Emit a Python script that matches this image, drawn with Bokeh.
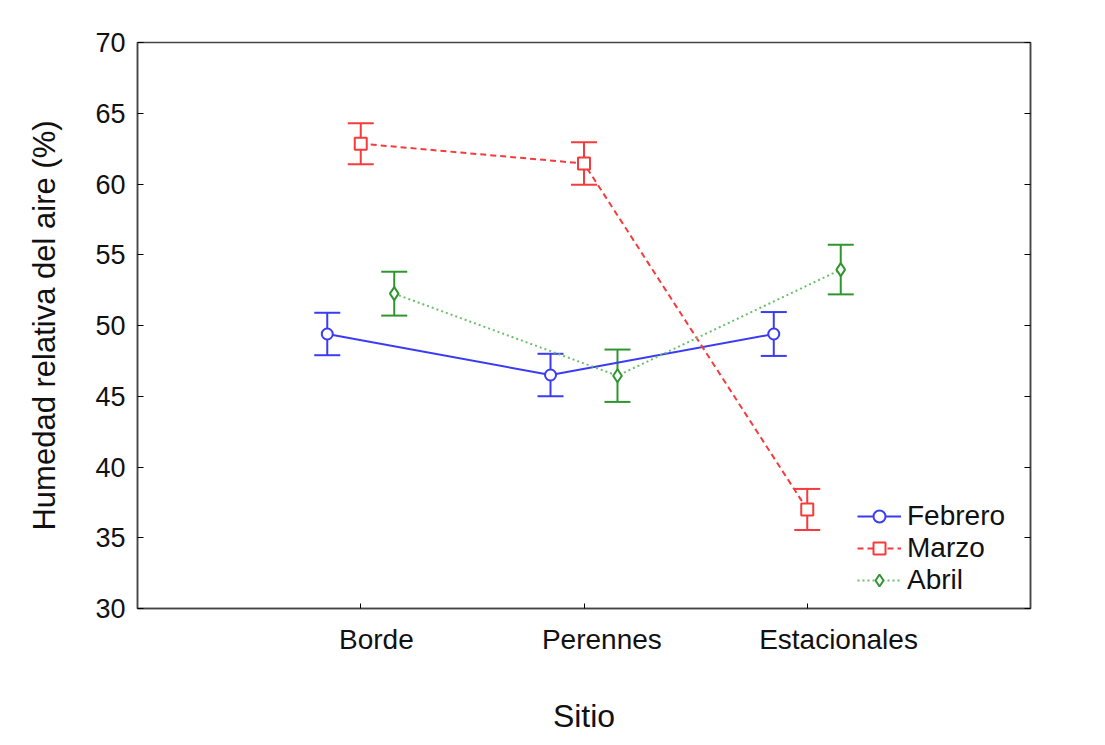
from bokeh.plotting import figure
from bokeh.models import (Range1d, LinearAxis, FixedTicker, Whisker, TeeHead,
                          ColumnDataSource, Legend, LegendItem)
from bokeh.embed import file_html
from bokeh.resources import INLINE

# ---- data ----
sitios = ["Borde", "Perennes", "Estacionales"]
sitio_pos = [1, 2, 3]
febrero_mean = [49.4, 46.5, 49.4]
febrero_err = [1.5, 1.5, 1.55]
marzo_mean = [62.85, 61.45, 37.0]
marzo_err = [1.45, 1.5, 1.45]
abril_mean = [52.25, 46.45, 53.95]
abril_err = [1.55, 1.85, 1.75]
y_ticks = [30, 35, 40, 45, 50, 55, 60, 65, 70]

FONT = "Liberation Sans"
TXT = "#111111"

p = figure(width=1105, height=745, x_range=Range1d(0, 4), y_range=Range1d(30, 70),
           output_backend="svg", toolbar_location=None,
           min_border_left=137, min_border_right=75, min_border_top=42,
           min_border_bottom=137)
p.grid.visible = False
p.outline_line_color = "#444444"
p.outline_line_width = 1.5
p.background_fill_color = "white"
p.border_fill_color = "white"

# y axis
ya = p.yaxis[0]
ya.ticker = FixedTicker(ticks=y_ticks)
ya.major_tick_in = 6
ya.major_tick_out = 0
ya.minor_tick_line_color = None
ya.axis_line_color = "#444444"
ya.axis_line_width = 1.5
ya.major_label_text_font = FONT
ya.major_label_text_font_size = "27px"
ya.major_label_text_color = TXT
ya.major_label_standoff = 12
ya.axis_label = "Humedad relativa del aire (%)"
ya.axis_label_text_font = FONT
ya.axis_label_text_font_size = "31px"
ya.axis_label_text_font_style = "normal"
ya.axis_label_text_color = TXT
ya.axis_label_standoff = 30

# right axis (ticks only)
ra = LinearAxis(ticker=FixedTicker(ticks=y_ticks), major_tick_in=6, major_tick_out=0,
                minor_tick_line_color=None, major_label_text_font_size="0px",
                axis_line_color="#444444", axis_line_width=1.5)
p.add_layout(ra, "right")

# bottom axis (ticks only, at category positions)
xa = p.xaxis[0]
xa.ticker = FixedTicker(ticks=sitio_pos)
xa.major_tick_in = 5
xa.major_tick_out = 0
xa.minor_tick_line_color = None
xa.major_label_text_font_size = "0px"
xa.axis_line_color = "#444444"
xa.axis_line_width = 1.5

# bottom labels axis (labels slightly offset, as in the reference)
label_pos = [1.07, 2.08, 3.14]
la = LinearAxis(ticker=FixedTicker(ticks=label_pos),
                major_label_overrides={lp: s for lp, s in zip(label_pos, sitios)},
                major_tick_line_color=None, minor_tick_line_color=None,
                axis_line_color=None, major_label_standoff=9)
la.major_label_text_font = FONT
la.major_label_text_font_size = "28px"
la.major_label_text_color = TXT
la.axis_label = "Sitio"
la.axis_label_text_font = FONT
la.axis_label_text_font_size = "32px"
la.axis_label_text_font_style = "normal"
la.axis_label_text_color = TXT
la.axis_label_standoff = 40
p.add_layout(la, "below")

series = [
    ("Febrero", febrero_mean, febrero_err, -0.15, "#3b3bf5", "#3b3bf5", "solid", "circle", 11),
    ("Marzo", marzo_mean, marzo_err, 0.0, "#f53b3b", "#f53b3b", "6 4", "square", 12),
    ("Abril", abril_mean, abril_err, 0.15, "#2e962e", "#6cbf6c", "2 3", "diamond", 13),
]

items = []
for name, mean, err, off, col, lcol, dash, marker, size in series:
    xs = [x + off for x in sitio_pos]
    src = ColumnDataSource(dict(x=xs, y=mean,
                                upper=[m + e for m, e in zip(mean, err)],
                                lower=[m - e for m, e in zip(mean, err)]))
    lr = p.line("x", "y", source=src, line_color=lcol, line_width=2, line_dash=dash)
    w = Whisker(base="x", upper="upper", lower="lower", source=src,
                line_color=col, line_width=2,
                upper_head=TeeHead(size=26, line_color=col, line_width=2),
                lower_head=TeeHead(size=26, line_color=col, line_width=2))
    p.add_layout(w)
    sr = p.scatter("x", "y", source=src, marker=marker, size=size,
                   fill_color="white", line_color=col, line_width=2)
    items.append(LegendItem(label=name, renderers=[lr, sr]))

leg = Legend(items=items, location=(720, 12), label_text_font=FONT,
             label_text_font_size="28px", label_text_color=TXT,
             glyph_width=44, glyph_height=30, spacing=0, padding=0, margin=0,
             label_standoff=6, label_height=30,
             border_line_alpha=0, background_fill_alpha=0)
p.add_layout(leg)

open("out.html", "w").write(file_html(p, INLINE))
